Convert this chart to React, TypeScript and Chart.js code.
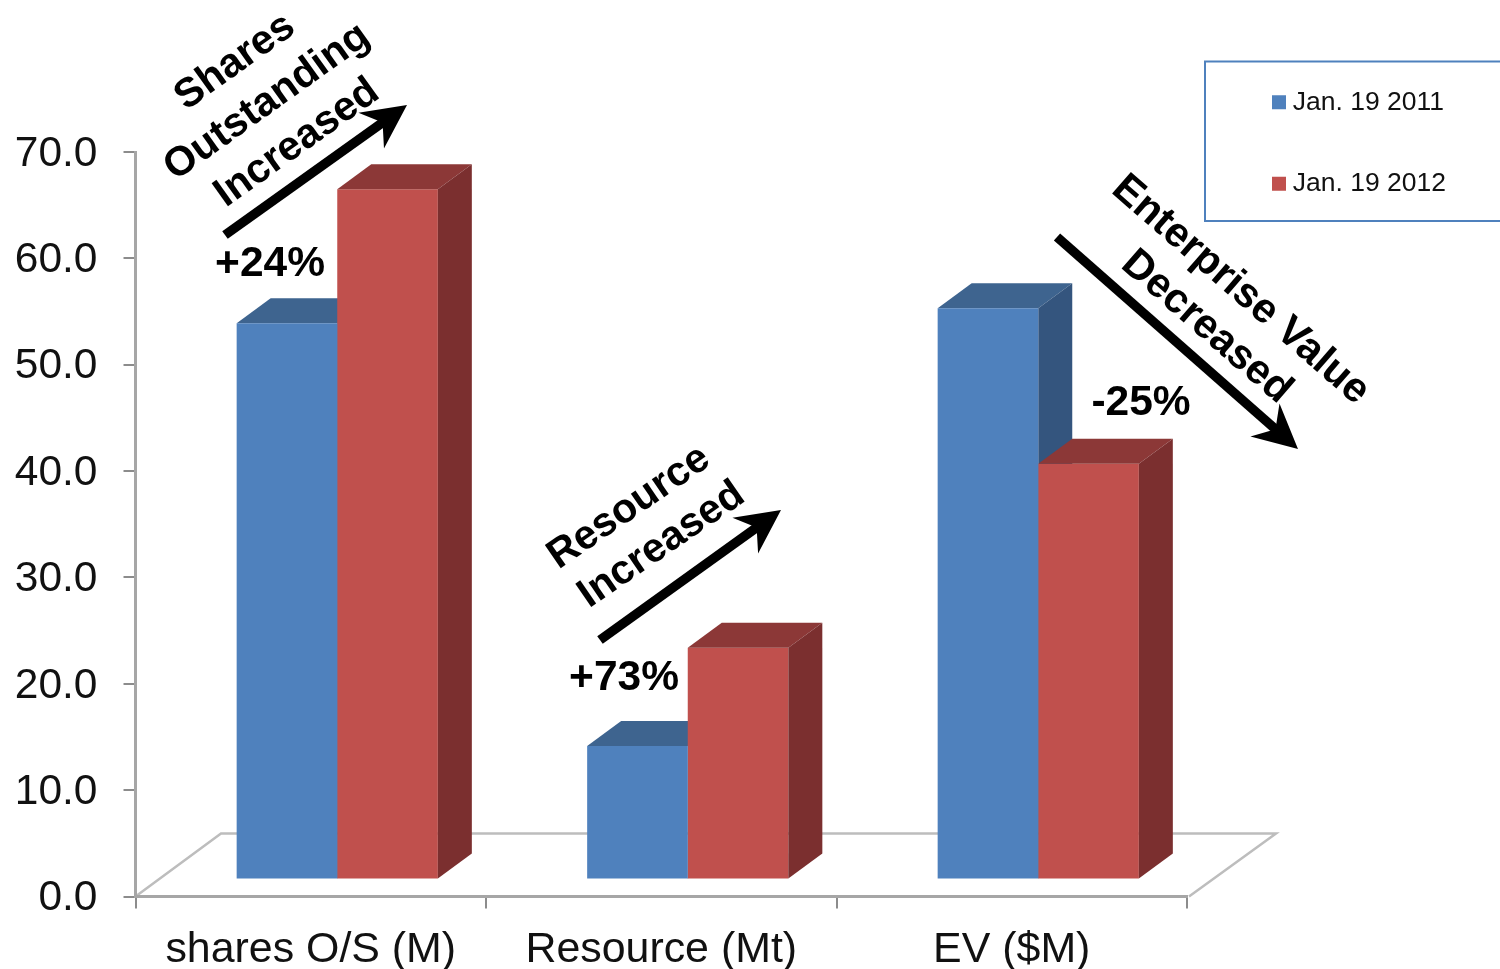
import React, { useEffect, useRef } from "react";
import { Chart, registerables } from "chart.js";

Chart.register(...registerables);

const categories = ["shares O/S (M)", "Resource (Mt)", "EV ($M)"];
const seriesNames = ["Jan. 19 2011", "Jan. 19 2012"];
const values2011 = [52.3, 12.55, 53.7];
const values2012 = [64.9, 21.8, 39.1];

const FONT = '"Liberation Sans", Arial, sans-serif';
const BLUE = { front: "#4f81bd", top: "#3e648f", side: "#34557e" };
const RED = { front: "#c0504d", top: "#8c3837", side: "#7b2f2f" };
const SHIFT_X = 26.5;
const SHIFT_Y = -17;
const DEPTH_X = 34;
const DEPTH_Y = -25;

const drawExtrusion = (ctx: any, bar: any, c: any) => {
  const l = bar.x - bar.width / 2;
  const r = bar.x + bar.width / 2;
  const t = bar.y;
  const b = bar.base;
  ctx.fillStyle = c.top;
  ctx.beginPath();
  ctx.moveTo(l, t);
  ctx.lineTo(l + DEPTH_X, t + DEPTH_Y);
  ctx.lineTo(r + DEPTH_X, t + DEPTH_Y);
  ctx.lineTo(r, t);
  ctx.closePath();
  ctx.fill();
  ctx.fillStyle = c.side;
  ctx.beginPath();
  ctx.moveTo(r, t);
  ctx.lineTo(r + DEPTH_X, t + DEPTH_Y);
  ctx.lineTo(r + DEPTH_X, b + DEPTH_Y);
  ctx.lineTo(r, b);
  ctx.closePath();
  ctx.fill();
};

const drawArrow = (ctx: any, x0: number, y0: number, x1: number, y1: number) => {
  const a = Math.atan2(y1 - y0, x1 - x0);
  const len = Math.hypot(x1 - x0, y1 - y0);
  ctx.save();
  ctx.translate(x0, y0);
  ctx.rotate(a);
  ctx.fillStyle = "#000";
  ctx.fillRect(0, -4.75, len - 28, 9.5);
  ctx.beginPath();
  ctx.moveTo(len, 0);
  ctx.lineTo(len - 44, -22);
  ctx.lineTo(len - 30, 0);
  ctx.lineTo(len - 44, 22);
  ctx.closePath();
  ctx.fill();
  ctx.restore();
};

const drawLabel = (ctx: any, text: string, x: number, y: number, deg: number, size: number) => {
  ctx.save();
  ctx.translate(x, y);
  ctx.rotate((deg * Math.PI) / 180);
  ctx.font = `bold ${size}px ${FONT}`;
  ctx.fillStyle = "#000";
  ctx.textAlign = "center";
  ctx.textBaseline = "middle";
  ctx.fillText(text, 0, 0);
  ctx.restore();
};

const look3d = {
  id: "look3d",
  afterLayout(chart: any) {
    const lg = chart.legend;
    lg.left = 1223.5;
    lg.top = 34;
    lg.right = 1500;
    lg.bottom = 800;
  },
  beforeDraw(chart: any) {
    const { ctx, chartArea: a } = chart;
    // floor
    ctx.save();
    ctx.strokeStyle = "#bdbdbd";
    ctx.lineWidth = 2.5;
    ctx.beginPath();
    ctx.moveTo(a.left, a.bottom);
    ctx.lineTo(221, 833.5);
    ctx.lineTo(1276, 833.5);
    ctx.lineTo(a.right + 2, a.bottom);
    ctx.stroke();
    // legend frame
    ctx.strokeStyle = BLUE.front;
    ctx.lineWidth = 2;
    ctx.strokeRect(1205, 61.5, 320, 159.5);
    ctx.restore();
  },
  beforeDatasetsDraw(chart: any) {
    const { ctx } = chart;
    ctx.save();
    ctx.translate(SHIFT_X, SHIFT_Y);
    chart.getDatasetMeta(0).data.forEach((bar: any) => drawExtrusion(ctx, bar, BLUE));
  },
  afterDatasetDraw(chart: any, args: any) {
    if (args.index === 1) {
      chart.getDatasetMeta(1).data.forEach((bar: any) => drawExtrusion(chart.ctx, bar, RED));
    }
  },
  afterDatasetsDraw(chart: any) {
    const { ctx } = chart;
    ctx.restore();
    drawArrow(ctx, 225, 235, 407, 105);
    drawArrow(ctx, 600, 640, 781, 510);
    drawArrow(ctx, 1057, 237, 1298, 449);
    drawLabel(ctx, "Shares", 235, 62, -35.5, 41);
    drawLabel(ctx, "Outstanding", 267, 102, -35.5, 41);
    drawLabel(ctx, "Increased", 297, 143, -35.5, 41);
    drawLabel(ctx, "Resource", 629, 507.5, -34.5, 41);
    drawLabel(ctx, "Increased", 661.5, 545, -34.5, 41);
    drawLabel(ctx, "Enterprise Value", 1240.5, 290, 41, 41.6);
    drawLabel(ctx, "Decreased", 1206.5, 327, 41, 41.6);
    drawLabel(ctx, "+24%", 270, 264, 0, 42.5);
    drawLabel(ctx, "+73%", 624, 678, 0, 42.5);
    drawLabel(ctx, "-25%", 1141, 403, 0, 42.5);
  },
};

export default function App() {
  const ref = useRef<HTMLCanvasElement | null>(null);
  useEffect(() => {
    const chart = new Chart(ref.current as HTMLCanvasElement, {
      type: "bar",
      data: {
        labels: categories,
        datasets: [
          { label: seriesNames[0], data: values2011, backgroundColor: BLUE.front, clip: false as any },
          { label: seriesNames[1], data: values2012, backgroundColor: RED.front, clip: false as any },
        ],
      },
      options: {
        responsive: false,
        animation: false,
        devicePixelRatio: 1,
        datasets: { bar: { categoryPercentage: 0.574, barPercentage: 1, borderWidth: 0 } },
        layout: { autoPadding: false, padding: { left: 0, top: 152, right: 313, bottom: 0 } },
        plugins: {
          title: { display: false },
          tooltip: { enabled: false },
          legend: {
            display: true,
            position: "chartArea" as any,
            align: "start",
            labels: {
              font: { family: FONT, size: 26.5 },
              color: "#111",
              usePointStyle: true,
              pointStyle: "rect",
              boxWidth: 1,
              boxHeight: 14,
              padding: 55,
            },
          },
        },
        scales: {
          x: {
            afterFit: (s: any) => { s.height = 72.5; },
            grid: { drawOnChartArea: false, drawTicks: true, tickLength: 12, color: "#8c8c8c", lineWidth: 2 },
            border: { color: "#a6a6a6", width: 3 },
            ticks: { font: { family: FONT, size: 42.9 }, color: "#111", padding: 16, maxRotation: 0, autoSkip: false },
          },
          y: {
            min: 0,
            max: 70,
            afterFit: (s: any) => { s.width = 135.5; },
            grid: { drawOnChartArea: false, drawTicks: true, tickLength: 12, color: "#8c8c8c", lineWidth: 2 },
            border: { color: "#a6a6a6", width: 3 },
            ticks: {
              stepSize: 10,
              font: { family: FONT, size: 42.5 },
              color: "#111",
              padding: 26,
              labelOffset: 2,
              callback: (v: any) => Number(v).toFixed(1),
            },
          },
        },
      },
      plugins: [look3d],
    });
    return () => chart.destroy();
  }, []);
  return (
    <div style={{ position: "absolute", left: 0, top: 0, width: 1500, height: 969, background: "#fff" }}>
      <canvas ref={ref} width={1500} height={969} style={{ display: "block" }} />
    </div>
  );
}
